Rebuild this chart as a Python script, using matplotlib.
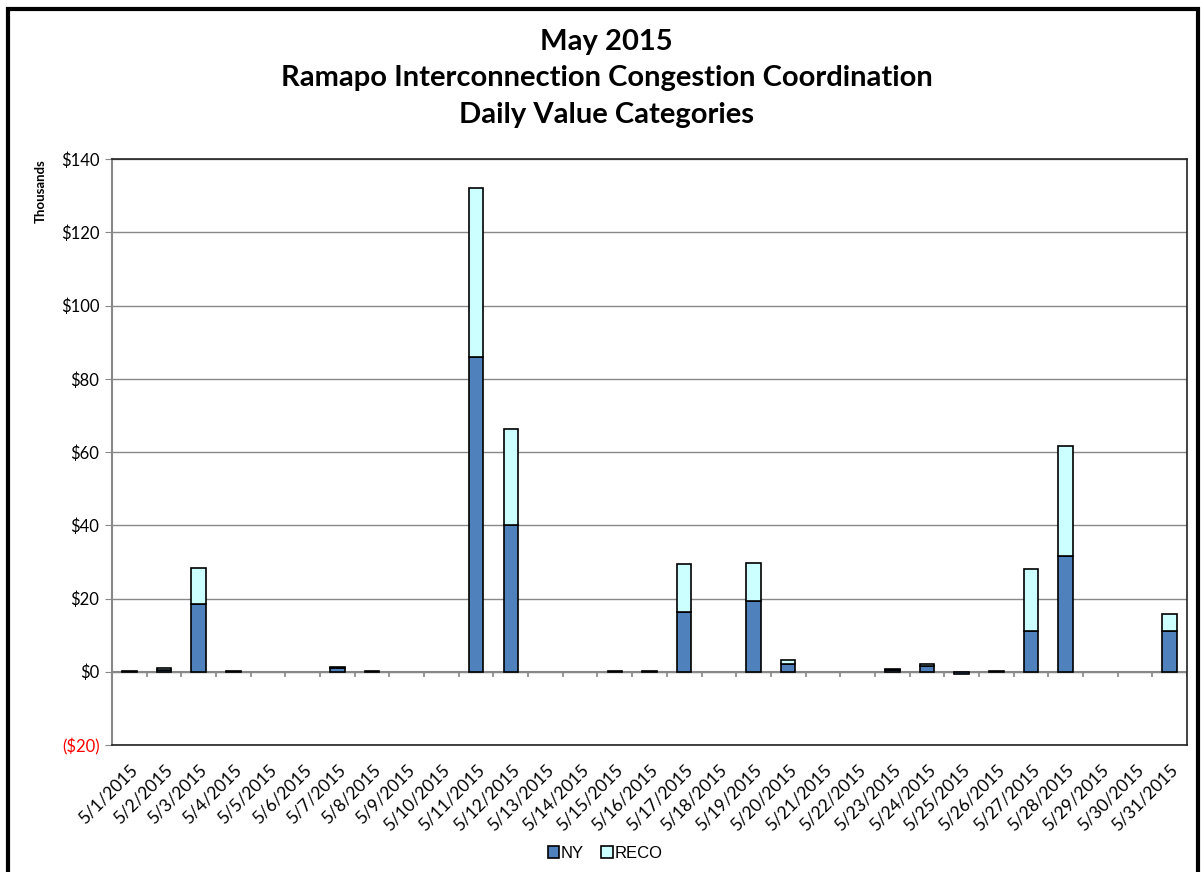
import numpy as np
import matplotlib.pyplot as plt
from matplotlib.patches import Rectangle
from matplotlib.ticker import FuncFormatter

days = [f'5/{d}/2015' for d in range(1, 32)]
ny = [0.3, 0.6, 18.5, 0.3, 0, 0, 0.9, 0.3, 0, 0,
      86.0, 40.0, 0, 0, 0.3, 0.3, 16.2, 0, 19.4, 2.1,
      0, 0, 0.5, 1.5, -0.7, 0.3, 11.2, 31.5, 0, 0, 11.2]
reco = [0, 0.3, 9.7, 0, 0, 0, 0.5, 0, 0, 0,
        46.0, 26.3, 0, 0, 0, 0, 13.2, 0, 10.4, 1.0,
        0, 0, 0.3, 0.5, 0, 0, 16.8, 30.2, 0, 0, 4.6]

plt.rcParams['font.family'] = ['Lato', 'DejaVu Sans']

fig = plt.figure(figsize=(12.01, 8.72), dpi=100)
ax = fig.add_axes([112 / 1201, 1 - 745 / 872, 1075 / 1201, 586 / 872])

x = np.arange(len(days))
ny_arr = np.array(ny, dtype=float)
reco_arr = np.array(reco, dtype=float)
ny_plot = np.where(ny_arr == 0, np.nan, ny_arr)
reco_plot = np.where(reco_arr == 0, np.nan, reco_arr)
ax.bar(x, ny_plot, width=0.42, color='#4F81BD', edgecolor='black', linewidth=1.2,
       label='NY', zorder=3)
ax.bar(x, reco_plot, width=0.42, bottom=np.maximum(ny_arr, 0), color='#CCFFFF',
       edgecolor='black', linewidth=1.2, label='RECO', zorder=3)

ax.set_xlim(-0.5, len(days) - 0.5)
ax.set_ylim(-20, 140)
ax.set_yticks(np.arange(-20, 141, 20))
ax.yaxis.set_major_formatter(FuncFormatter(
    lambda v, p: f'(${abs(v):.0f})' if v < 0 else f'${v:.0f}'))
for lab in ax.get_yticklabels():
    lab.set_fontsize(12)
ax.get_yticklabels()[0].set_color('red')
ax.tick_params(axis='y', length=5, color='#888888', pad=4)
ax.grid(axis='y', color='#888888', linewidth=1, zorder=0)

ax.set_xticks(x)
ax.set_xticklabels(days, rotation=45, ha='right', rotation_mode='anchor',
                   fontsize=12.5)
ax.tick_params(axis='x', length=0, pad=12)

# zero line with category boundary ticks
bounds = np.arange(len(days) + 1) - 0.5
ax.axhline(0, color='#888888', linewidth=1.5, zorder=2)
ax.vlines(bounds, -1.4, 0, color='#888888', linewidth=1.2, zorder=2)

ax.spines['left'].set_color('#888888')
ax.spines['left'].set_linewidth(1.5)
for s in ['top', 'right', 'bottom']:
    ax.spines[s].set_color('#222222')
    ax.spines[s].set_linewidth(1.2)

ax.text(-0.066, 1.0, 'Thousands', transform=ax.transAxes, rotation=90,
        ha='center', va='top', fontsize=9.5, fontweight='bold')

fig.text(0.505, 1 - 42 / 872, 'May 2015', ha='center', va='center',
         fontsize=21, fontweight='bold')
fig.text(0.505, 1 - 78 / 872, 'Ramapo Interconnection Congestion Coordination',
         ha='center', va='center', fontsize=21, fontweight='bold')
fig.text(0.505, 1 - 115 / 872, 'Daily Value Categories', ha='center', va='center',
         fontsize=21, fontweight='bold')

fig.legend(loc='center', bbox_to_anchor=(605 / 1201, 1 - 853 / 872), ncol=2,
           frameon=False, handlelength=0.7, handleheight=0.7, handletextpad=0.1,
           columnspacing=1.0, prop={'family': ['Liberation Sans'], 'size': 12})

fig.patches.append(Rectangle((8 / 1201, -0.05), 1190 / 1201, 1.05 - 9 / 872,
                             transform=fig.transFigure, fill=False,
                             edgecolor='black', linewidth=3))

fig.savefig('out.png', dpi=100)
